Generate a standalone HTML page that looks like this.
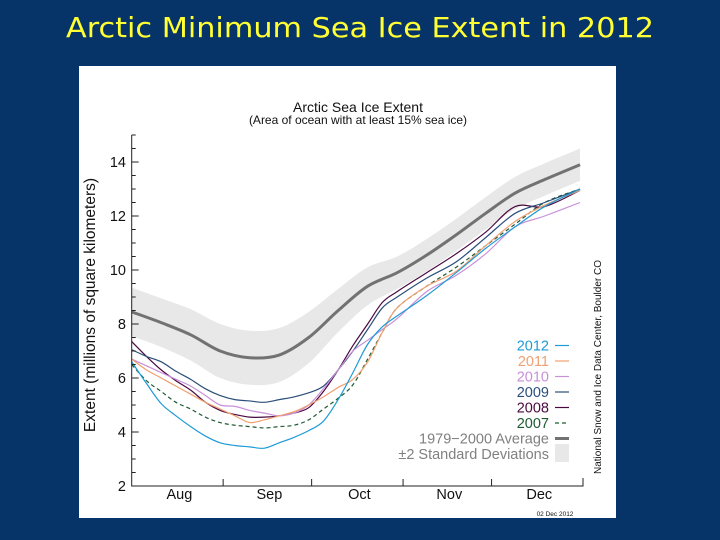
<!DOCTYPE html>
<html><head><meta charset="utf-8"><style>
html,body{margin:0;padding:0;background:#073468;}
svg{display:block;font-family:"Liberation Sans",sans-serif;}
</style></head><body>
<svg id="s" width="720" height="540" viewBox="0 0 720 540">
<rect x="0" y="0" width="720" height="540" fill="#073468"/>
<text x="360" y="37" text-anchor="middle" font-family="'DejaVu Sans',sans-serif" font-size="28" fill="#ffff33" textLength="588" lengthAdjust="spacingAndGlyphs">Arctic Minimum Sea Ice Extent in 2012</text>
<rect x="79" y="66" width="537" height="452" fill="#ffffff"/>
<text x="358" y="112" text-anchor="middle" font-size="14" fill="#111">Arctic Sea Ice Extent</text>
<text x="358" y="124" text-anchor="middle" font-size="12" fill="#111">(Area of ocean with at least 15% sea ice)</text>
<text transform="translate(95,305) rotate(-90)" text-anchor="middle" font-size="15.5" fill="#111">Extent (millions of square kilometers)</text>
<text transform="translate(601,367) rotate(-90)" text-anchor="middle" font-size="10" fill="#111">National Snow and Ice Data Center, Boulder CO</text>
<text x="555" y="516" text-anchor="middle" font-size="6.5" fill="#111">02 Dec 2012</text>
<g id="plot"></g>
</svg>
<script>
const days=[0,5,10,15,20,25,30,35,40,45,50,55,60,65,70,75,80,85,90,100,110,120,130,140,152];
const avgDays=[0,10,20,30,40,50,60,70,80,90,100,110,120,130,140,152];
const avgVals=[8.45,8.05,7.6,7.0,6.75,6.85,7.5,8.5,9.4,9.9,10.55,11.3,12.1,12.85,13.35,13.9];
const avgStd=[0.9,0.9,0.95,1.0,1.0,1.0,0.95,0.8,0.7,0.6,0.6,0.6,0.6,0.6,0.6,0.6];
const v2012=[6.6,5.8,5.05,4.6,4.2,3.85,3.6,3.5,3.45,3.4,3.6,3.8,4.05,4.4,5.2,6.2,7.25,7.9,8.3,9.05,9.9,10.8,11.6,12.35,13.0];
const v2011=[6.7,6.3,6.0,5.7,5.4,5.1,4.85,4.6,4.35,4.45,4.6,4.75,5.0,5.3,5.65,5.95,6.6,7.7,8.6,9.4,9.95,10.9,11.8,12.4,12.95];
const v2010=[6.7,6.45,6.2,5.95,5.7,5.35,5.0,4.95,4.8,4.7,4.6,4.7,5.0,5.6,6.3,7.0,7.4,7.8,8.2,9.2,9.8,10.6,11.6,12.0,12.5];
const v2009=[7.05,6.8,6.6,6.25,5.95,5.6,5.35,5.2,5.15,5.1,5.2,5.3,5.45,5.7,6.3,7.0,7.8,8.6,9.0,9.7,10.3,11.2,12.1,12.5,13.0];
const v2008=[7.35,6.8,6.3,5.9,5.55,5.1,4.8,4.65,4.55,4.55,4.6,4.7,4.9,5.5,6.3,7.2,8.0,8.8,9.2,9.9,10.6,11.4,12.35,12.35,12.95];
const v2007=[6.5,5.9,5.5,5.1,4.85,4.55,4.35,4.25,4.2,4.15,4.2,4.25,4.45,4.85,5.25,5.75,6.7,7.7,8.6,9.4,10.1,10.9,11.7,12.5,13.0];
const yTicks=[2,4,6,8,10,12,14];
const months=["Aug","Sep","Oct","Nov","Dec"];
const monthStart=[0,31,61,92,122,153];
const legendLabels=["2012","2011","2010","2009","2008","2007"];

const NS="http://www.w3.org/2000/svg";
const g=document.getElementById('plot');
const X0=131.7,X1=583,Y0=486,PX_PER_UNIT=27.0;
const xs=d=>X0+d*(X1-X0)/153;
const ys=v=>Y0-(v-2)*PX_PER_UNIT;
function mk(tag,at){const e=document.createElementNS(NS,tag);for(const k in at)e.setAttribute(k,at[k]);g.appendChild(e);return e;}
function smooth(pts,start){
 let d=start?'M'+pts[0][0]+','+pts[0][1]:'L'+pts[0][0]+','+pts[0][1];
 for(let i=0;i<pts.length-1;i++){
  const p0=pts[Math.max(0,i-1)],p1=pts[i],p2=pts[i+1],p3=pts[Math.min(pts.length-1,i+2)];
  const c1=[p1[0]+(p2[0]-p0[0])/6,p1[1]+(p2[1]-p0[1])/6];
  const c2=[p2[0]-(p3[0]-p1[0])/6,p2[1]-(p3[1]-p1[1])/6];
  d+=`C${c1[0]},${c1[1]} ${c2[0]},${c2[1]} ${p2[0]},${p2[1]}`;
 }
 return d;
}
const upP=avgDays.map((d,i)=>[xs(d),ys(avgVals[i]+avgStd[i])]);
const loP=avgDays.map((d,i)=>[xs(d),ys(avgVals[i]-avgStd[i])]).reverse();
const band=mk('path',{d:smooth(upP,true)+smooth(loP,false)+'Z',fill:'#e8e8e8'});


const avg=mk('path',{d:smooth(avgDays.map((d,i)=>[xs(d),ys(avgVals[i])]),true),fill:'none',stroke:'#727272','stroke-width':3});


const series=[[v2007,'#1e5a32','2007',true],[v2008,'#4a0a40','2008'],[v2009,'#2a4f7a','2009'],[v2010,'#c890d8','2010'],[v2011,'#f0a070','2011'],[v2012,'#1e9bd7','2012']];
series.forEach(s=>{
 const p=mk('path',{d:smooth(days.map((d,i)=>[xs(d),ys(s[0][i])]),true),fill:'none',stroke:s[1],'stroke-width':1.2});
 if(s[3])p.setAttribute('stroke-dasharray','4 3');
 
 
});
const ax=mk('path',{d:`M${X0},${ys(15)}V${Y0}H${X1}V${Y0-8}`,fill:'none',stroke:'#222','stroke-width':1});


for(let v=2;v<=15;v+=0.5){
 const t=mk('line',{x1:X0,x2:X0+(v%2===0?7:4),y1:ys(v),y2:ys(v),stroke:'#222','stroke-width':1});
 
 
}
yTicks.forEach(v=>{
 const t=mk('text',{x:126,y:ys(v)+5,'text-anchor':'end','font-size':14.5,fill:'#111'});t.textContent=v;
 
 
});
monthStart.slice(1,5).forEach(d=>{
 const t=mk('line',{x1:xs(d),x2:xs(d),y1:Y0,y2:Y0-7,stroke:'#222'});
 
 
});
months.forEach((m,i)=>{
 const t=mk('text',{x:xs((monthStart[i]+monthStart[i+1])/2)+2,y:499,'text-anchor':'middle','font-size':14.5,fill:'#111'});t.textContent=m;
 
 
});
const legCols=['#1e9bd7','#f0a070','#c890d8','#2a4f7a','#4a0a40','#1e5a32'];
legendLabels.forEach((l,i)=>{
 const y=345.5+i*15.5;
 const t=mk('text',{x:549,y:y+5,'text-anchor':'end','font-size':14.5,fill:legCols[i]});t.textContent=l;
 
 
 const ln=mk('line',{x1:555,x2:569,y1:y,y2:y,stroke:legCols[i],'stroke-width':1.2});
 if(i===5)ln.setAttribute('stroke-dasharray','4 3');
 
 
});
let t=mk('text',{x:549,y:443.5,'text-anchor':'end','font-size':14.5,fill:'#808080'});t.textContent='1979\u22122000 Average';


let l=mk('line',{x1:555,x2:569,y1:438.5,y2:438.5,stroke:'#727272','stroke-width':3});


t=mk('text',{x:549,y:459,'text-anchor':'end','font-size':14.5,fill:'#808080'});t.textContent='\u00b12 Standard Deviations';


l=mk('rect',{x:555,y:444,width:14,height:18,fill:'#e8e8e8'});


</script>
</body></html>
